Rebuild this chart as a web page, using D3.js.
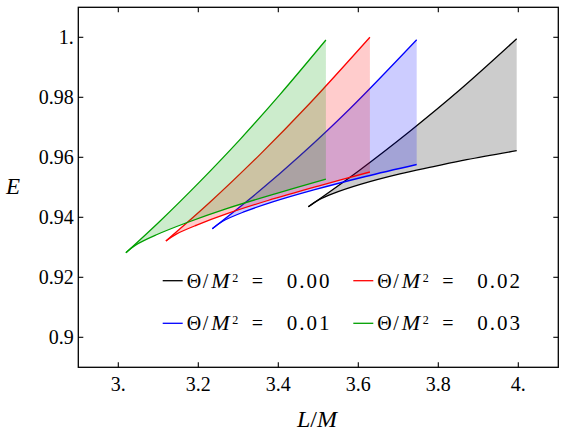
<!DOCTYPE html>
<html>
<head>
    <script src="https://cdnjs.cloudflare.com/ajax/libs/d3/7.8.5/d3.min.js"></script>
    <style>
    body{ margin: 0; background: #fff; }
    svg text{ font-family: "Liberation Serif", "Times New Roman", serif; }
    </style>
</head>
<body>
    <svg width="566" height="440"></svg>
    <script>
        // series (Theta/M^2), drawn in this order
        var thetas = ["0.00", "0.01", "0.02", "0.03"];

        // upper and lower branch of each band, [L/M, E]
        var upper000 = [[3.475,0.9435],[3.604,0.9558],[3.729,0.9687],[3.854,0.9825],[3.996,0.9995]];
        var lower000 = [[3.475,0.9435],[3.501,0.9458],[3.538,0.9480],[3.605,0.9510],[3.704,0.9545],[3.788,0.9569],[3.871,0.9592],[3.996,0.9622]];
        var upper001 = [[3.235,0.9362],[3.354,0.9489],[3.454,0.9605],[3.579,0.9762],[3.746,0.9992]];
        var lower001 = [[3.235,0.9362],[3.261,0.9387],[3.312,0.9417],[3.388,0.9452],[3.491,0.9492],[3.618,0.9536],[3.746,0.9576]];
        var upper002 = [[3.119,0.9321],[3.229,0.9450],[3.354,0.9609],[3.479,0.9780],[3.629,1.0000]];
        var lower002 = [[3.119,0.9321],[3.145,0.9344],[3.196,0.9374],[3.272,0.9412],[3.374,0.9456],[3.502,0.9505],[3.629,0.9551]];
        var upper003 = [[3.019,0.9282],[3.104,0.9387],[3.204,0.9519],[3.304,0.9659],[3.404,0.9809],[3.519,0.9991]];
        var lower003 = [[3.019,0.9282],[3.044,0.9308],[3.094,0.9341],[3.169,0.9381],[3.269,0.9428],[3.394,0.9479],[3.519,0.9527]];

        var xTicks = [3.0, 3.2, 3.4, 3.6, 3.8, 4.0];
        var xTickLabels = ["3.", "3.2", "3.4", "3.6", "3.8", "4."];
        var yTicks = [0.90, 0.92, 0.94, 0.96, 0.98, 1.00];
        var yTickLabels = ["0.9", "0.92", "0.94", "0.96", "0.98", "1."];

        var colors = {"0.00": "#000000", "0.01": "#0000ff", "0.02": "#ff0000", "0.03": "#00a000"};
        var bands = {
            "0.00": {up: upper000, lo: lower000},
            "0.01": {up: upper001, lo: lower001},
            "0.02": {up: upper002, lo: lower002},
            "0.03": {up: upper003, lo: lower003}
        };

        var svg = d3.select("svg");
        var frameL = 78.3, frameR = 558.3, frameT = 7.3, frameB = 367.3;

        var x = d3.scaleLinear().domain([2.9, 4.1]).range([frameL, frameR]);
        var y = d3.scaleLinear().domain([0.89, 1.01]).range([frameB, frameT]);

        var line = d3.line()
            .x(function(d){ return x(d[0]); })
            .y(function(d){ return y(d[1]); })
            .curve(d3.curveCatmullRom.alpha(0.5));

        var plot = svg.append("g");
        thetas.forEach(function(t){
            var b = bands[t];
            // filled region: upper branch out, lower branch back
            var upPath = line(b.up);
            var loRev = line(b.lo.slice().reverse());
            plot.append("path")
                .attr("d", upPath + "L" + loRev.slice(1) + "Z")
                .attr("fill", colors[t])
                .attr("fill-opacity", 0.2)
                .attr("stroke", "none");
            [b.up, b.lo].forEach(function(arr){
                plot.append("path")
                    .attr("d", line(arr))
                    .attr("fill", "none")
                    .attr("stroke", colors[t])
                    .attr("stroke-width", 1.3);
            });
        });

        // frame and ticks
        var axes = svg.append("g");
        axes.append("rect")
            .attr("x", frameL).attr("y", frameT)
            .attr("width", frameR - frameL).attr("height", frameB - frameT)
            .attr("fill", "none").attr("stroke", "#000").attr("stroke-width", 1.3);

        var tl = 5;
        xTicks.forEach(function(v, i){
            axes.append("line").attr("x1", x(v)).attr("x2", x(v))
                .attr("y1", frameB).attr("y2", frameB - tl).attr("stroke", "#000").attr("stroke-width", 1.1);
            axes.append("line").attr("x1", x(v)).attr("x2", x(v))
                .attr("y1", frameT).attr("y2", frameT + tl).attr("stroke", "#000").attr("stroke-width", 1.1);
            axes.append("text").attr("x", x(v)).attr("y", frameB + 24)
                .attr("text-anchor", "middle").attr("font-size", 20)
                .text(xTickLabels[i]);
        });
        yTicks.forEach(function(v, i){
            axes.append("line").attr("x1", frameL).attr("x2", frameL + tl)
                .attr("y1", y(v)).attr("y2", y(v)).attr("stroke", "#000").attr("stroke-width", 1.1);
            axes.append("line").attr("x1", frameR).attr("x2", frameR - tl)
                .attr("y1", y(v)).attr("y2", y(v)).attr("stroke", "#000").attr("stroke-width", 1.1);
            axes.append("text").attr("x", frameL - 4.5).attr("y", y(v) + 6.8)
                .attr("text-anchor", "end").attr("font-size", 20)
                .text(yTickLabels[i]);
        });

        // axis labels
        svg.append("text").attr("x", 13).attr("y", 194)
            .attr("text-anchor", "middle").attr("font-size", 23).attr("font-style", "italic")
            .text("E");
        var xl = svg.append("text").attr("x", 317).attr("y", 427)
            .attr("text-anchor", "middle").attr("font-size", 24);
        xl.append("tspan").attr("font-style", "italic").text("L");
        xl.append("tspan").text("/");
        xl.append("tspan").attr("font-style", "italic").text("M");

        // legend
        var legendPos = {
            "0.00": [162.7, 280.7], "0.02": [353.3, 280.7],
            "0.01": [162.7, 323.3], "0.03": [353.3, 323.3]
        };
        var legend = svg.append("g");
        thetas.forEach(function(t){
            var p = legendPos[t];
            legend.append("line").attr("x1", p[0]).attr("x2", p[0] + 20)
                .attr("y1", p[1]).attr("y2", p[1])
                .attr("stroke", colors[t]).attr("stroke-width", 1.3);
            var tx = p[0] + 24, ty = p[1] + 7;
            legend.append("text").attr("x", tx).attr("y", ty).attr("font-size", 20).text("\u0398");
            legend.append("text").attr("x", tx + 16).attr("y", ty).attr("font-size", 20).text("/");
            legend.append("text").attr("x", tx + 24.5).attr("y", ty).attr("font-size", 22)
                .attr("font-style", "italic").text("M");
            legend.append("text").attr("x", tx + 45.5).attr("y", ty - 6).attr("font-size", 12).text("2");
            legend.append("text").attr("x", tx + 65).attr("y", ty).attr("font-size", 20).text("=");
            legend.append("text").attr("x", tx + 100).attr("y", ty).attr("font-size", 21)
                .attr("letter-spacing", 2).text(t);
        });
    </script>
</body>
</html>
